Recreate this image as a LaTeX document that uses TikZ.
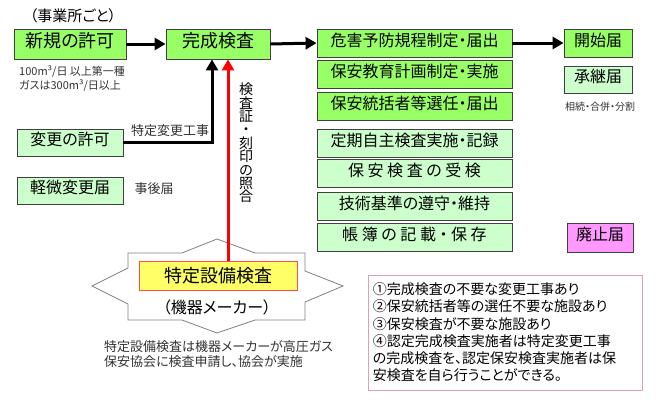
\documentclass[tikz,border=0pt]{standalone}
\usepackage{fontspec}
\setmainfont{Noto Sans CJK JP}[RawFeature=+palt]
\usetikzlibrary{arrows.meta,positioning}
\definecolor{bgreen}{HTML}{99FF66}
\definecolor{lgreen}{HTML}{CCFFCC}
\definecolor{pinkf}{HTML}{FF99FF}
\definecolor{yel}{HTML}{FFFF66}
\definecolor{notepink}{HTML}{E0A0B4}
\newcommand{\fs}[1]{\fontsize{#1}{#1}\selectfont}
\tikzset{
  box/.style={draw=black!75, line width=0.8pt, inner sep=0pt, minimum height=28pt, text height=0.8em, text depth=0.15em},
  big/.style={box, fill=bgreen},
  sml/.style={box, fill=lgreen},
  lbl/.style={inner sep=0pt, text=black!80},
  blk/.style={line width=3pt, -{Triangle[length=11pt,width=12pt]}},
  redar/.style={line width=3pt, red, -{Triangle[length=11pt,width=12pt]}},
}
\begin{document}
\begin{tikzpicture}[x=1pt,y=-1pt]
\useasboundingbox[fill=white] (0,0) rectangle (661,402);
% title
\node[lbl, font=\fs{15}, text=black] (title) at (73,16) {（事業所ごと）};
% top row
\node[big, minimum width=112pt, minimum height=30pt, font=\fs{18}] (shinki) at (70,44) {新規の許可};
\node[big, minimum width=104pt, minimum height=30pt, font=\fs{18}] (kansei) at (218,44) {完成検査};
% right column
\node[big, minimum width=195pt, font=\fs{16}] (r1) at (414.5,43) {危害予防規程制定・届出};
\node[big, minimum width=195pt, font=\fs{16}] (r2) at (414.5,74.5) {保安教育計画制定・実施};
\node[big, minimum width=195pt, font=\fs{16}] (r3) at (414.5,106) {保安統括者等選任・届出};
\node[sml, minimum width=195pt, font=\fs{16}] (r4) at (414.5,143) {定期自主検査実施・記録};
\node[sml, minimum width=195pt, font=\fs{16}] (r5) at (414.5,173.5) {保 安 検 査 の 受 検};
\node[sml, minimum width=195pt, font=\fs{16}] (r6) at (414.5,206) {技術基準の遵守・維持};
\node[sml, minimum width=195pt, font=\fs{16}] (r7) at (414.5,237.5) {帳 簿 の 記 載 ・ 保 存};
% far right
\node[big, minimum width=68pt, font=\fs{16}] (kaishi) at (598,43) {開始届};
\node[sml, minimum width=68pt, minimum height=27pt, font=\fs{16}] (shokei) at (598,79.5) {承継届};
\node[lbl, font=\fs{10}] (sozoku) at (600,107) {相続・合併・分割};
\node[box, fill=pinkf, minimum width=66pt, minimum height=29pt, font=\fs{16}] (haishi) at (600,237.5) {廃止届};
% left column
\node[lbl, font=\fs{11}, align=left, anchor=west] (kibo) at (19,78.5) {100m³/日 以上第一種\\[2pt]ガスは300m³/日以上};
\node[sml, minimum width=106pt, minimum height=27pt, font=\fs{16}] (henko) at (70,142.5) {変更の許可};
\node[sml, minimum width=106pt, minimum height=27pt, font=\fs{16}] (keibi) at (70,190.5) {軽微変更届};
\node[lbl, font=\fs{13}] (jigo) at (154,189) {事後届};
\node[lbl, font=\fs{13}] (tokuteihenko) at (170,131) {特定変更工事};
\node[lbl, font=\fontsize{14}{13.4}\selectfont, align=center, text=black] (shogo) at (246,143) {検\\査\\証\\・\\刻\\印\\の\\照\\合};
% star shape
\draw[draw=black!50, line width=0.8pt, fill=white] (128,253) -- (182,253) -- (217,239) -- (255,253) -- (305,253) -- (305,271) -- (343,286) -- (305,302) -- (305,320) -- (255,320) -- (217,333) -- (182,320) -- (128,320) -- (128,304) -- (92,286) -- (128,268) -- cycle;
\node[draw=red!70, fill=yel, line width=0.8pt, minimum width=158pt, minimum height=29pt, inner sep=0pt, font=\fs{18}] (tokusetsu) at (218,275.5) {特定設備検査};
\node[lbl, font=\fs{16}, text=black] (kiki) at (217,307) {（機器メーカー）};
\node[lbl, font=\fontsize{13}{14.5}\selectfont, align=left, anchor=west] (setsumei) at (104,354) {特定設備検査は機器メーカーが高圧ガス\\保安協会に検査申請し、協会が実施};
% note box
\node[draw=notepink, line width=0.8pt, minimum width=274pt, minimum height=115pt, inner sep=0pt] (notebox) at (505,332.5) {};
\node[inner sep=0pt, font=\fontsize{14}{17.2}\selectfont, align=left, anchor=north west] (notes) at ([xshift=5pt,yshift=-8pt]notebox.north west) {①完成検査の不要な変更工事あり\\②保安統括者等の選任不要な施設あり\\③保安検査が不要な施設あり\\④認定完成検査実施者は特定変更工事\\の完成検査を、認定保安検査実施者は保\\安検査を自ら行うことができる。};
% arrows
\draw[blk] (shinki.east) -- (kansei.west);
\draw[blk] (kansei.east) -- (r1.west);
\draw[blk] (r1.east) -- (kaishi.west);
\draw[blk, rounded corners=0pt] (henko.east) -| ([xshift=-6pt]kansei.south);
\draw[redar] ([xshift=10pt]tokusetsu.north) -- ([xshift=10pt]kansei.south);
\end{tikzpicture}
\end{document}
